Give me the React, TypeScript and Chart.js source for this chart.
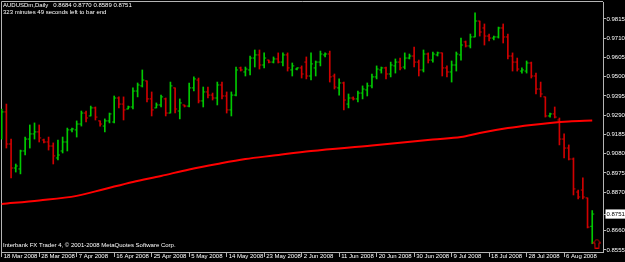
import React, { useEffect, useRef } from 'react';
import { Chart, registerables } from 'chart.js';

Chart.register(...registerables);

// ---- texts ----
const symbolTitle = 'AUDUSDm,Daily';
const timerText = '323 minutes 49 seconds left to bar end';
const copyrightText = 'Interbank FX Trader 4, \u00a9 2001-2008 MetaQuotes Software Corp.';

// ---- axis labels ----
const dateLabels = [
  '18 Mar 2008', '28 Mar 2008', '7 Apr 2008', '16 Apr 2008', '25 Apr 2008', '5 May 2008',
  '14 May 2008', '23 May 2008', '2 Jun 2008', '11 Jun 2008', '20 Jun 2008', '30 Jun 2008',
  '9 Jul 2008', '18 Jul 2008', '28 Jul 2008', '6 Aug 2008',
];
const barsPerDateLabel = 8;
const priceTicks = [
  0.9815, 0.971, 0.9605, 0.95, 0.9395, 0.929, 0.9185, 0.908, 0.8975, 0.887, 0.8751, 0.866, 0.8555,
];
const bidPrice = 0.8751;

// ---- daily OHLC (AUDUSD, 18 Mar 2008 onwards) ----
const opens = [
  0.9182, 0.9308, 0.9133, 0.9002, 0.8997, 0.9095, 0.9160, 0.9188, 0.9199, 0.9155,
  0.9144, 0.9122, 0.9057, 0.9095, 0.9144, 0.9210, 0.9210, 0.9242, 0.9302, 0.9286,
  0.9330, 0.9259, 0.9231, 0.9259, 0.9253, 0.9384, 0.9351, 0.9324, 0.9335, 0.9422,
  0.9450, 0.9477, 0.9379, 0.9330, 0.9346, 0.9379, 0.9302, 0.9439, 0.9313, 0.9346,
  0.9340, 0.9439, 0.9482, 0.9368, 0.9417, 0.9400, 0.9384, 0.9455, 0.9395, 0.9319,
  0.9400, 0.9548, 0.9526, 0.9537, 0.9602, 0.9619, 0.9564, 0.9591, 0.9580, 0.9597,
  0.9580, 0.9619, 0.9537, 0.9542, 0.9548, 0.9580, 0.9504, 0.9548, 0.9580, 0.9619,
  0.9624, 0.9504, 0.9439, 0.9466, 0.9351, 0.9384, 0.9379, 0.9411, 0.9428, 0.9450,
  0.9499, 0.9537, 0.9548, 0.9515, 0.9559, 0.9580, 0.9553, 0.9602, 0.9613, 0.9580,
  0.9537, 0.9624, 0.9591, 0.9619, 0.9630, 0.9548, 0.9526, 0.9564, 0.9619, 0.9690,
  0.9668, 0.9717, 0.9804, 0.9766, 0.9722, 0.9711, 0.9717, 0.9766, 0.9717, 0.9613,
  0.9580, 0.9531, 0.9531, 0.9575, 0.9504, 0.9433, 0.9390, 0.9286, 0.9297, 0.9264,
  0.9160, 0.9111, 0.9051, 0.8871, 0.8882, 0.8839, 0.8684,
];
const highs = [
  0.9324, 0.9351, 0.9160, 0.9024, 0.9100, 0.9171, 0.9237, 0.9248, 0.9237, 0.9160,
  0.9171, 0.9139, 0.9155, 0.9171, 0.9220, 0.9220, 0.9259, 0.9313, 0.9313, 0.9340,
  0.9335, 0.9259, 0.9270, 0.9302, 0.9395, 0.9390, 0.9390, 0.9340, 0.9439, 0.9466,
  0.9537, 0.9477, 0.9417, 0.9357, 0.9400, 0.9384, 0.9471, 0.9439, 0.9379, 0.9346,
  0.9466, 0.9499, 0.9493, 0.9444, 0.9444, 0.9411, 0.9471, 0.9471, 0.9417, 0.9417,
  0.9553, 0.9553, 0.9553, 0.9613, 0.9646, 0.9646, 0.9630, 0.9591, 0.9608, 0.9630,
  0.9630, 0.9630, 0.9575, 0.9548, 0.9559, 0.9608, 0.9630, 0.9586, 0.9640, 0.9630,
  0.9640, 0.9515, 0.9488, 0.9471, 0.9406, 0.9390, 0.9422, 0.9450, 0.9466, 0.9515,
  0.9559, 0.9553, 0.9553, 0.9580, 0.9597, 0.9602, 0.9630, 0.9624, 0.9662, 0.9591,
  0.9646, 0.9630, 0.9635, 0.9635, 0.9630, 0.9559, 0.9586, 0.9635, 0.9711, 0.9695,
  0.9733, 0.9848, 0.9804, 0.9788, 0.9733, 0.9722, 0.9771, 0.9788, 0.9733, 0.9630,
  0.9602, 0.9548, 0.9586, 0.9580, 0.9520, 0.9471, 0.9390, 0.9302, 0.9335, 0.9275,
  0.9188, 0.9128, 0.9057, 0.8882, 0.8948, 0.8839, 0.8770,
];
const lows = [
  0.9160, 0.9111, 0.8948, 0.8980, 0.8970, 0.9073, 0.9111, 0.9160, 0.9144, 0.9139,
  0.9100, 0.9024, 0.9046, 0.9084, 0.9095, 0.9199, 0.9171, 0.9231, 0.9253, 0.9286,
  0.9264, 0.9231, 0.9199, 0.9248, 0.9248, 0.9330, 0.9264, 0.9324, 0.9324, 0.9390,
  0.9444, 0.9362, 0.9286, 0.9330, 0.9335, 0.9286, 0.9302, 0.9302, 0.9270, 0.9335,
  0.9335, 0.9422, 0.9357, 0.9335, 0.9384, 0.9373, 0.9346, 0.9379, 0.9302, 0.9286,
  0.9395, 0.9531, 0.9504, 0.9510, 0.9553, 0.9542, 0.9548, 0.9575, 0.9575, 0.9575,
  0.9559, 0.9531, 0.9504, 0.9537, 0.9493, 0.9488, 0.9482, 0.9504, 0.9559, 0.9608,
  0.9471, 0.9433, 0.9400, 0.9319, 0.9330, 0.9373, 0.9362, 0.9379, 0.9395, 0.9439,
  0.9488, 0.9520, 0.9488, 0.9499, 0.9520, 0.9537, 0.9542, 0.9597, 0.9553, 0.9504,
  0.9526, 0.9575, 0.9580, 0.9613, 0.9504, 0.9499, 0.9471, 0.9531, 0.9591, 0.9662,
  0.9657, 0.9717, 0.9722, 0.9673, 0.9695, 0.9701, 0.9711, 0.9684, 0.9597, 0.9531,
  0.9531, 0.9520, 0.9520, 0.9493, 0.9406, 0.9390, 0.9280, 0.9280, 0.9275, 0.9128,
  0.9057, 0.9046, 0.8855, 0.8833, 0.8833, 0.8675, 0.8589,
];
const closes = [
  0.9308, 0.9133, 0.9002, 0.9013, 0.9095, 0.9160, 0.9188, 0.9199, 0.9166, 0.9144,
  0.9122, 0.9068, 0.9073, 0.9144, 0.9210, 0.9215, 0.9242, 0.9302, 0.9275, 0.9330,
  0.9280, 0.9242, 0.9259, 0.9297, 0.9384, 0.9351, 0.9319, 0.9335, 0.9422, 0.9455,
  0.9482, 0.9379, 0.9319, 0.9346, 0.9390, 0.9302, 0.9450, 0.9324, 0.9357, 0.9340,
  0.9439, 0.9488, 0.9368, 0.9417, 0.9400, 0.9384, 0.9455, 0.9395, 0.9319, 0.9400,
  0.9537, 0.9537, 0.9542, 0.9602, 0.9619, 0.9564, 0.9602, 0.9580, 0.9597, 0.9580,
  0.9619, 0.9548, 0.9559, 0.9548, 0.9515, 0.9504, 0.9570, 0.9580, 0.9624, 0.9624,
  0.9499, 0.9444, 0.9466, 0.9373, 0.9384, 0.9379, 0.9411, 0.9433, 0.9450, 0.9499,
  0.9542, 0.9548, 0.9515, 0.9564, 0.9580, 0.9548, 0.9602, 0.9613, 0.9580, 0.9537,
  0.9624, 0.9591, 0.9624, 0.9630, 0.9548, 0.9526, 0.9564, 0.9624, 0.9673, 0.9668,
  0.9717, 0.9804, 0.9744, 0.9722, 0.9711, 0.9717, 0.9766, 0.9717, 0.9613, 0.9580,
  0.9542, 0.9537, 0.9575, 0.9504, 0.9433, 0.9406, 0.9286, 0.9297, 0.9280, 0.9160,
  0.9111, 0.9051, 0.8888, 0.8844, 0.8844, 0.8680, 0.8751,
];

// ---- moving average (read at these bar indices) ----
const maIndex = [0, 8, 16, 22, 28, 34, 40, 46, 52, 58, 66, 79, 92, 98, 102, 108, 113, 117, 121, 126];
const maValues = [
  0.8806, 0.8825, 0.8850, 0.8888, 0.8926, 0.8959, 0.8994, 0.9024, 0.9051, 0.9070,
  0.9095, 0.9125, 0.9158, 0.9171, 0.9193, 0.9220, 0.9237, 0.9248, 0.9256, 0.9261,
];

// ---- marker arrow below last bar ----
const arrowIndex = 127;
const arrowPrice = 0.859;

// ---- styles ----
const FONT = "'Liberation Sans', Arial, sans-serif";
const FONT_SIZE = 6;
const BULL = '#00c800';
const BEAR = '#d00000';
const MA_COLOR = '#ff0000';
const FRAME = '#b4b4b4';
const TEXT = '#ffffff';

function makeArrow(): HTMLCanvasElement {
  const c = document.createElement('canvas');
  c.width = 9;
  c.height = 10;
  const g = c.getContext('2d')!;
  g.strokeStyle = '#e00000';
  g.lineWidth = 1;
  g.beginPath();
  g.moveTo(4.5, 0.5);
  g.lineTo(8.5, 4.5);
  g.lineTo(6.5, 4.5);
  g.lineTo(6.5, 9.5);
  g.lineTo(2.5, 9.5);
  g.lineTo(2.5, 4.5);
  g.lineTo(0.5, 4.5);
  g.closePath();
  g.stroke();
  return c;
}

const overlayPlugin = {
  id: 'mtOverlay',
  beforeDraw(chart: any) {
    const { ctx, width, height } = chart;
    ctx.save();
    ctx.fillStyle = '#000000';
    ctx.fillRect(0, 0, width, height);
    ctx.restore();
  },
  beforeDatasetsDraw(chart: any) {
    const { ctx, chartArea: a } = chart;
    ctx.save();
    ctx.strokeStyle = FRAME;
    ctx.lineWidth = 1;
    ctx.beginPath();
    ctx.moveTo(a.left + 0.5, a.bottom);
    ctx.lineTo(a.left + 0.5, a.top - 0.5);
    ctx.lineTo(a.right, a.top - 0.5);
    ctx.stroke();
    ctx.restore();
  },
  afterDraw(chart: any) {
    const { ctx, chartArea: a } = chart;
    const n = opens.length - 1;
    ctx.save();
    ctx.fillStyle = TEXT;
    ctx.font = `${FONT_SIZE}px ${FONT}`;
    ctx.textBaseline = 'middle';
    ctx.textAlign = 'left';
    const ohlcText = [opens[n], highs[n], lows[n], closes[n]].map((v) => v.toFixed(4)).join(' ');
    ctx.fillText(`${symbolTitle}   ${ohlcText}`, a.left + 2, a.top + 3.5);
    ctx.fillText(timerText, a.left + 2, a.top + 10.5);
    ctx.fillText(copyrightText, a.left + 2, a.bottom - 6.5);
    ctx.restore();
  },
};

export default function App() {
  const ref = useRef<HTMLCanvasElement | null>(null);

  useEffect(() => {
    document.body.style.margin = '0';
    document.body.style.background = '#000';
    const canvas = ref.current;
    if (!canvas) return;

    const colors = opens.map((o, i) => (closes[i] >= o ? BULL : BEAR));
    const tickOffset = 0.22;

    const chart = new Chart(canvas, {
      type: 'bar',
      data: {
        datasets: [
          {
            type: 'line',
            label: 'MA',
            data: maIndex.map((x, k) => ({ x, y: maValues[k] })),
            borderColor: MA_COLOR,
            borderWidth: 2,
            pointRadius: 0,
            cubicInterpolationMode: 'monotone',
            order: 0,
          } as any,
          {
            type: 'bar',
            label: 'High-Low',
            data: opens.map((_, i) => ({ x: i, y: [lows[i], highs[i]] })),
            backgroundColor: colors,
            borderWidth: 0,
            barThickness: 1,
            grouped: false,
            order: 1,
          } as any,
          {
            type: 'scatter',
            label: 'Open',
            data: opens.map((o, i) => ({ x: i - tickOffset, y: o })),
            pointStyle: 'line',
            pointRadius: 1,
            pointBorderWidth: 1,
            pointBorderColor: colors,
            pointBackgroundColor: colors,
            showLine: false,
            order: 1,
          } as any,
          {
            type: 'scatter',
            label: 'Close',
            data: closes.map((c, i) => ({ x: i + tickOffset, y: c })),
            pointStyle: 'line',
            pointRadius: 1,
            pointBorderWidth: 1,
            pointBorderColor: colors,
            pointBackgroundColor: colors,
            showLine: false,
            order: 1,
          } as any,
          {
            type: 'scatter',
            label: 'Arrow',
            data: [{ x: arrowIndex, y: arrowPrice }],
            pointStyle: makeArrow(),
            pointRadius: 5,
            showLine: false,
            order: 0,
          } as any,
        ],
      },
      options: {
        responsive: false,
        maintainAspectRatio: false,
        animation: false,
        devicePixelRatio: 1,
        events: [],
        layout: { autoPadding: false, padding: { left: 1, top: 2, right: 0, bottom: 0 } },
        plugins: {
          legend: { display: false },
          tooltip: { enabled: false },
          title: { display: false },
        },
        scales: {
          x: {
            type: 'linear',
            position: 'bottom',
            min: -0.15,
            max: 128.3,
            offset: false,
            grid: {
              display: true,
              drawOnChartArea: false,
              drawTicks: true,
              tickLength: 5,
              color: FRAME,
              offset: false,
            },
            border: { display: true, color: FRAME },
            afterBuildTicks: (scale: any) => {
              scale.ticks = dateLabels.map((_, k) => ({ value: k * barsPerDateLabel }));
            },
            afterFit: (scale: any) => {
              scale.height = 10;
              scale.paddingLeft = 0;
              scale.paddingRight = 0;
              scale.paddingTop = 0;
              scale.paddingBottom = 0;
            },
            ticks: {
              autoSkip: false,
              maxRotation: 0,
              minRotation: 0,
              align: 'start',
              labelOffset: 2,
              padding: -4,
              color: TEXT,
              font: { size: FONT_SIZE, family: FONT },
              callback: (v: any) => dateLabels[Math.round(Number(v) / barsPerDateLabel)] ?? '',
            },
          },
          y: {
            type: 'linear',
            position: 'right',
            min: 0.85439,
            max: 0.99077,
            grid: {
              display: true,
              drawOnChartArea: false,
              drawTicks: true,
              tickLength: 3,
              color: FRAME,
            },
            border: { display: true, color: FRAME },
            afterBuildTicks: (scale: any) => {
              scale.ticks = priceTicks.map((value) => ({ value }));
            },
            afterFit: (scale: any) => {
              scale.width = 22;
              scale.paddingLeft = 0;
              scale.paddingRight = 0;
              scale.paddingTop = 0;
              scale.paddingBottom = 0;
            },
            ticks: {
              padding: 0.5,
              color: (ctx: any) => (ctx.tick && ctx.tick.value === bidPrice ? '#000000' : TEXT),
              showLabelBackdrop: (ctx: any) => !!(ctx.tick && ctx.tick.value === bidPrice),
              backdropColor: '#ffffff',
              backdropPadding: { left: 1, right: 2, top: 1, bottom: 1 },
              font: { size: FONT_SIZE, family: FONT },
              callback: (v: any) => Number(v).toFixed(4),
            },
          },
        },
      },
      plugins: [overlayPlugin],
    } as any);

    return () => chart.destroy();
  }, []);

  return (
    <div style={{ width: 625, height: 262, background: '#000' }}>
      <canvas ref={ref} width={625} height={262} style={{ display: 'block' }} />
    </div>
  );
}
